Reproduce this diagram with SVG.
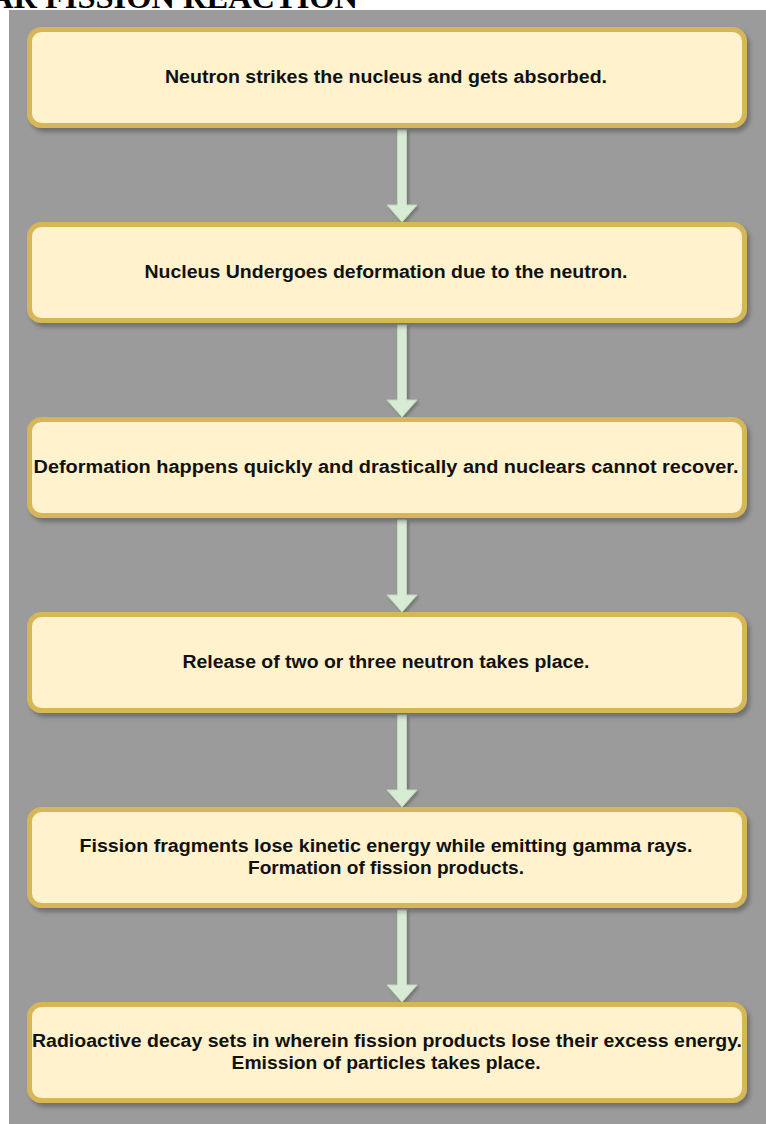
<svg xmlns="http://www.w3.org/2000/svg" width="766" height="1124" viewBox="0 0 766 1124">
<defs>
<filter id="sh" x="-5%" y="-10%" width="115%" height="130%">
<feDropShadow dx="3" dy="4" stdDeviation="2" flood-color="#000" flood-opacity="0.28"/>
</filter>
<filter id="ash" x="-50%" y="-10%" width="200%" height="130%">
<feDropShadow dx="2" dy="2" stdDeviation="1.5" flood-color="#000" flood-opacity="0.25"/>
</filter>
<style>
.box{fill:#fff2cc;stroke:#d6b656;stroke-width:5;filter:url(#sh)}
.lbl{font-family:"Liberation Sans",Arial,Helvetica,sans-serif;font-weight:bold;font-size:18px;fill:#111;text-anchor:middle}
.arr{fill:#d8ecd5;stroke:#bfd8bb;stroke-width:1;filter:url(#ash)}
.title{font-family:"Liberation Serif","Times New Roman",serif;font-weight:bold;font-size:32px;fill:#000}
</style>
</defs>
<rect x="0" y="0" width="766" height="1124" fill="#ffffff"/>
<text class="title" x="-10" y="8" textLength="368" lengthAdjust="spacingAndGlyphs">AR FISSION REACTION</text>
<rect x="9" y="10" width="757" height="1114" fill="#9b9b9b"/>
<g id="connectors">
<polygon class="arr" points="397.5,130 406.5,130 406.5,205 417,205 402,222 387,205 397.5,205"/>
<polygon class="arr" points="397.5,325 406.5,325 406.5,400 417,400 402,417 387,400 397.5,400"/>
<polygon class="arr" points="397.5,520 406.5,520 406.5,595 417,595 402,612 387,595 397.5,595"/>
<polygon class="arr" points="397.5,715 406.5,715 406.5,790 417,790 402,807 387,790 397.5,790"/>
<polygon class="arr" points="397.5,910 406.5,910 406.5,985 417,985 402,1002 387,985 397.5,985"/>
</g>
<g id="node1">
<rect class="box" x="29.5" y="29.5" width="715" height="96" rx="12"/>
<text class="lbl" x="386" y="83" textLength="442" lengthAdjust="spacingAndGlyphs">Neutron strikes the nucleus and gets absorbed.</text>
</g>
<g id="node2">
<rect class="box" x="29.5" y="224.5" width="715" height="96" rx="12"/>
<text class="lbl" x="386" y="278" textLength="483" lengthAdjust="spacingAndGlyphs">Nucleus Undergoes deformation due to the neutron.</text>
</g>
<g id="node3">
<rect class="box" x="29.5" y="419.5" width="715" height="96" rx="12"/>
<text class="lbl" x="386" y="473" textLength="705" lengthAdjust="spacingAndGlyphs">Deformation happens quickly and drastically and nuclears cannot recover.</text>
</g>
<g id="node4">
<rect class="box" x="29.5" y="614.5" width="715" height="96" rx="12"/>
<text class="lbl" x="386" y="668" textLength="407" lengthAdjust="spacingAndGlyphs">Release of two or three neutron takes place.</text>
</g>
<g id="node5">
<rect class="box" x="29.5" y="809.5" width="715" height="96" rx="12"/>
<text class="lbl" x="386" y="852" textLength="613" lengthAdjust="spacingAndGlyphs">Fission fragments lose  kinetic energy while emitting gamma rays.</text>
<text class="lbl" x="386" y="874" textLength="276" lengthAdjust="spacingAndGlyphs">Formation of fission products.</text>
</g>
<g id="node6">
<rect class="box" x="29.5" y="1004.5" width="715" height="96" rx="12"/>
<text class="lbl" x="387" y="1047" textLength="710" lengthAdjust="spacingAndGlyphs">Radioactive decay sets in wherein fission products lose their excess energy.</text>
<text class="lbl" x="386" y="1069" textLength="309" lengthAdjust="spacingAndGlyphs">Emission of particles takes place.</text>
</g>
</svg>
